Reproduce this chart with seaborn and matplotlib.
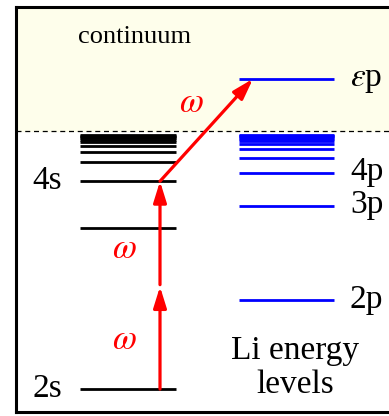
import matplotlib
matplotlib.use("Agg")
import matplotlib.pyplot as plt
import seaborn as sns
import numpy as np

# ---- data (energies in eV, relative to ionization limit) ----
s_levels = [-5.39, -2.02, -1.05, -0.64, -0.43, -0.31, -0.235, -0.185, -0.15, -0.12, -0.10, -0.085]
p_levels = [-3.54, -1.56, -0.87, -0.555, -0.385, -0.28, -0.215, -0.17, -0.137, -0.113, -0.095, -0.08]
continuum_level = 1.09
s_labels = {"2s": -5.39, "4s": -1.05}
p_labels = {"2p": -3.54, "3p": -1.56, "4p": -0.87}
photon = 2.16

sns.set_style("white")
plt.rcParams['font.family'] = ['Liberation Serif', 'DejaVu Serif']
plt.rcParams['mathtext.fontset'] = 'stix'
plt.rcParams['text.color'] = 'black'

W, H = 389, 416
fig = plt.figure(figsize=(W / 100, H / 100), dpi=100)
ax = fig.add_axes([16 / W, 4 / H, 424 / W, 405 / H])
ax.set_xlim(16, 440)
ax.set_ylim(-5.87, 2.59)
ax.set_xticks([])
ax.set_yticks([])
ax.spines['right'].set_visible(False)
for sp in ax.spines.values():
    sp.set_linewidth(2.2)
    sp.set_color('black')

# continuum background
ax.axhspan(0, 2.59, color='#fefeeb', zorder=0)
ax.axhline(0, color='black', lw=0.9, ls=(0, (4, 3)), zorder=1)

# levels
ax.hlines(s_levels, 80, 176, color='black', lw=2.0, zorder=2)
ax.hlines(p_levels, 239, 334, color='#0000ff', lw=2.0, zorder=2)
ax.hlines([continuum_level], 239, 334, color='#0000ff', lw=2.0, zorder=2)

fs = 24
off = 0.16
for lab, e in s_labels.items():
    ax.text(62, e - off, lab, ha='right', va='baseline', fontsize=fs)
for lab, e in p_labels.items():
    ax.text(350, e - off, lab, ha='left', va='baseline', fontsize=fs)
ax.text(350, continuum_level - off, r'$\varepsilon$p', ha='left', va='baseline', fontsize=fs)
ax.text(135, 1.84, 'continuum', ha='center', va='baseline', fontsize=19)
ax.text(295, -4.76, 'Li energy', ha='center', va='baseline', fontsize=fs)
ax.text(295, -5.47, 'levels', ha='center', va='baseline', fontsize=fs)

# photon arrows
ground = s_levels[0]
mid = ground + photon
four_s = s_levels[2]
ap = dict(arrowstyle='-|>,head_length=0.9,head_width=0.28', color='#ff0000',
          lw=2.3, shrinkA=0, shrinkB=0, mutation_scale=14)
ax.annotate('', xy=(160, mid - 0.02), xytext=(160, ground), arrowprops=ap, zorder=3)
ax.annotate('', xy=(160, four_s), xytext=(160, mid + 0.02), arrowprops=ap, zorder=3)
ax.annotate('', xy=(253, continuum_level), xytext=(160, four_s), arrowprops=ap, zorder=3)

for (x, y) in [(124, -4.38), (124, -2.48), (191, 0.58)]:
    ax.text(x, y, r'$\omega$', color='#ff0000', ha='center', va='center', fontsize=25)

fig.savefig('out.png', dpi=100)
